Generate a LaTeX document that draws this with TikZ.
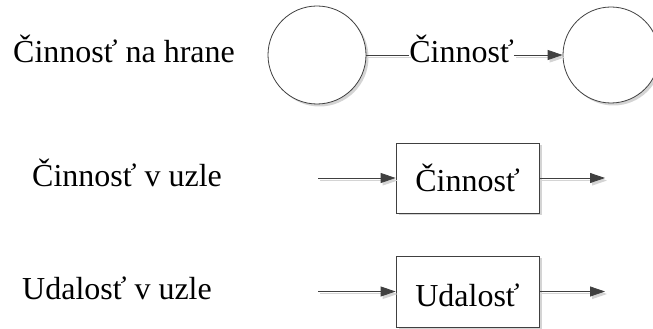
\documentclass[tikz,border=0pt]{standalone}
\usepackage{fontspec}
\setmainfont{Liberation Serif}
\usetikzlibrary{arrows.meta,shadows}
\definecolor{linec}{HTML}{404040}
\definecolor{shadc}{HTML}{D4D4D4}
\begin{document}
\begin{tikzpicture}[x=1pt,y=1pt,
  txt/.style={font=\fontsize{32}{38}\selectfont, inner sep=0pt, anchor=base},
  shp/.style={draw=linec, line width=0.8pt, fill=white,
     drop shadow={shadow xshift=2.5pt, shadow yshift=-2.5pt, fill=shadc, opacity=1}},
  conn/.style={draw=linec, line width=0.8pt, -{Triangle[length=15pt,width=10pt]}},
  plain/.style={draw=linec, line width=0.8pt},
  shad/.style={draw=shadc, line width=1pt, transform canvas={xshift=2pt,yshift=-2.5pt}},
  shadarr/.style={shad, -{Triangle[length=15pt,width=10pt]}, fill=shadc}]
\clip (0,0) rectangle (653,329);
\useasboundingbox (0,0) rectangle (653,329);
% left labels
\node[txt, anchor=base west] (l1) at (13,266) {Činnosť na hrane};
\node[txt, anchor=base west] (l2) at (32,142) {Činnosť v uzle};
\node[txt, anchor=base west] (l3) at (22,29) {Udalosť v uzle};
% row 1
\node[shp, circle, minimum size=98pt, inner sep=0pt] (c1) at (317,274) {};
\node[shp, circle, minimum size=96pt, inner sep=0pt] (c2) at (611,274) {};
\node[txt, fill=white] (lab) at (461.5,266) {Činnosť};
\draw[shad] (c1.east) -- (lab.west |- c1.east);
\draw[shadarr] (lab.east |- c2.west) -- (c2.west);
\draw[plain] (c1.east) -- (lab.west |- c1.east);
\draw[conn] (lab.east |- c2.west) -- (c2.west);
% row 2
\node[shp, rectangle, minimum width=143pt, minimum height=70pt, inner sep=0pt] (b1) at (467.5,151) {};
\node[txt] (t1) at (467.5,137) {Činnosť};
\coordinate (i1) at (318,151);
\coordinate (o1) at (605,151);
\draw[shadarr] (i1) -- (b1.west);
\draw[shadarr] (b1.east) -- (o1);
\draw[conn] (i1) -- (b1.west);
\draw[conn] (b1.east) -- (o1);
% row 3
\node[shp, rectangle, minimum width=143pt, minimum height=71pt, inner sep=0pt] (b2) at (467.5,37.5) {};
\node[txt] (t2) at (467.5,22) {Udalosť};
\coordinate (i2) at (318,37.5);
\coordinate (o2) at (605,37.5);
\draw[shadarr] (i2) -- (b2.west);
\draw[shadarr] (b2.east) -- (o2);
\draw[conn] (i2) -- (b2.west);
\draw[conn] (b2.east) -- (o2);
\end{tikzpicture}
\end{document}
